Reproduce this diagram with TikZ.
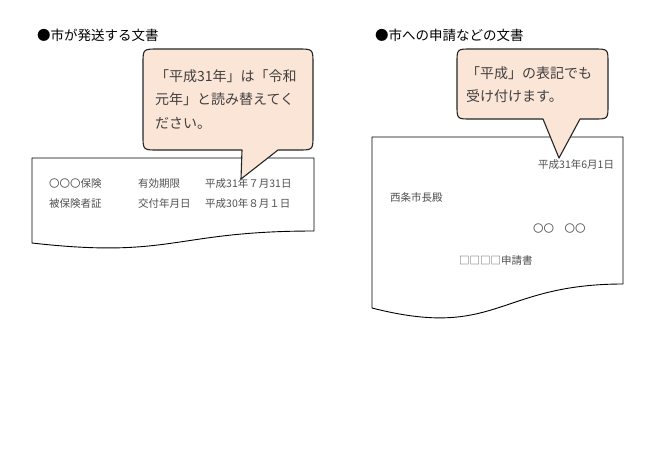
\documentclass[tikz,border=0pt]{standalone}
\usepackage{fontspec}
\setmainfont{Noto Sans CJK JP}
\definecolor{calloutfill}{HTML}{FBE5D6}
\definecolor{calloutline}{HTML}{262626}
\definecolor{calltext}{HTML}{404040}
\definecolor{doctext}{HTML}{505050}
\tikzset{
  docshape/.style={draw=black, line width=0.9pt, fill=white},
  calloutshape/.style={draw=calloutline, line width=1.1pt, fill=calloutfill, line join=round},
  titletxt/.style={anchor=base west, inner sep=0pt, text=black, font=\fontsize{13.5}{13.5}\selectfont},
  calltxt/.style={anchor=base west, inner sep=0pt, text=calltext, font=\fontsize{14}{14}\selectfont},
  doctxt/.style={anchor=base west, inner sep=0pt, text=doctext, font=\fontsize{10.5}{10.5}\selectfont}
}
\begin{document}
\begin{tikzpicture}[x=1pt, y=-1pt]
\useasboundingbox (0,0) rectangle (650,459);
\fill[white] (0,0) rectangle (650,459);

% titles
\node[titletxt] (t1) at (37,40) {●市が発送する文書};
\node[titletxt] (t2) at (375,40) {●市への申請などの文書};

% left document
\path[docshape] (32,158) -- (314,158) -- (314,231) .. controls (173,231) and (173,259) .. (32,243) -- cycle;
\node[doctxt] (l11) at (49,187) {〇〇〇保険};
\node[doctxt] (l12) at (138,187) {有効期限};
\node[doctxt] (l13) at (205,187) {平成31年７月31日};
\node[doctxt] (l21) at (49,207) {被保険者証};
\node[doctxt] (l22) at (138,207) {交付年月日};
\node[doctxt] (l23) at (205,207) {平成30年８月１日};

% right document
\path[docshape] (372,137) -- (623,137) -- (623,284) .. controls (497.5,284) and (497.5,340) .. (372,308) -- cycle;
\node[doctxt] (r1) at (538,168) {平成31年6月1日};
\node[doctxt] (r2) at (390,201) {西条市長殿};
\node[doctxt] (r3) at (533,232) {〇〇　〇〇};
\node[doctxt] (r4) at (459,264) {□□□□申請書};

% left callout
\path[calloutshape] (242,150) -- (158,150) .. controls (143,150) .. (143,135)
  -- (143,64) .. controls (143,49) .. (158,49)
  -- (298,49) .. controls (313,49) .. (313,64)
  -- (313,135) .. controls (313,150) .. (298,150)
  -- (278,150) -- (241,179) -- cycle;
\node[calltxt] (c1) at (155,81.3) {「平成31年」は「令和};
\node[calltxt] (c2) at (155,104.8) {元年」と読み替えてく};
\node[calltxt] (c3) at (155,128.3) {ださい。};

% right callout
\path[calloutshape] (543,119) -- (471,119) .. controls (457,119) .. (457,105)
  -- (457,63) .. controls (457,49) .. (471,49)
  -- (594,49) .. controls (608,49) .. (608,63)
  -- (608,105) .. controls (608,119) .. (594,119)
  -- (580,119) -- (559,158) -- cycle;
\node[calltxt] (d1) at (466,78) {「平成」の表記でも};
\node[calltxt] (d2) at (466,101) {受け付けます。};
\end{tikzpicture}
\end{document}
